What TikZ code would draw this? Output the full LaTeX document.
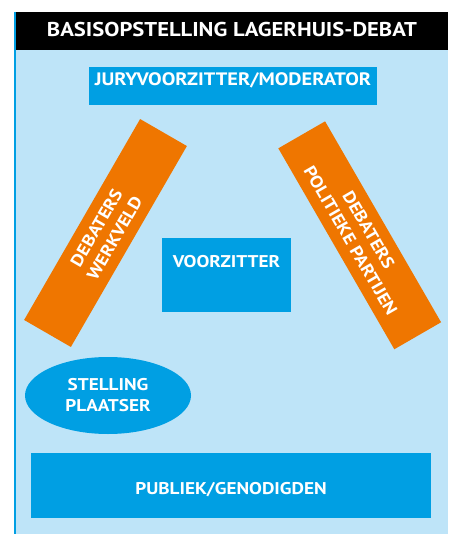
\documentclass[tikz,border=0pt]{standalone}
\usepackage{fontspec}
\setmainfont{PT Sans}[FakeStretch=1.13]
\usetikzlibrary{shapes.geometric}
\definecolor{lightbg}{RGB}{190,228,248}
\definecolor{boxblue}{RGB}{0,159,227}
\definecolor{barorange}{RGB}{239,118,0}
\tikzset{
  lbl/.style={text=white, font=\bfseries\fontsize{17}{21}\selectfont, align=center},
  bluebox/.style={lbl, fill=boxblue, inner sep=0pt},
  bar/.style={lbl, fill=barorange, minimum width=232pt, minimum height=54pt, inner sep=0pt},
}
\begin{document}
\begin{tikzpicture}[x=1pt,y=-1pt]
\useasboundingbox (0,0) rectangle (448,534);
\fill[lightbg] (16,50) rectangle (448,534);
\fill[boxblue] (14,12) rectangle (16,534);
\node[fill=black, text=white, font=\bfseries\fontsize{20}{24}\selectfont, minimum width=432pt, inner sep=0pt, text height=25pt, text depth=13pt] (header) at (232,31) {BASISOPSTELLING LAGERHUIS-DEBAT};
\node[bluebox, font=\bfseries\fontsize{18}{21}\selectfont, minimum width=288pt, text height=19pt, text depth=19pt] (jury) at (233,86) {JURYVOORZITTER/MODERATOR};
\node[bluebox, minimum width=129pt, text height=29.5pt, text depth=44.5pt] (voorz) at (226.5,275) {VOORZITTER};
\node[bluebox, minimum width=400pt, text height=41pt, text depth=24pt] (publiek) at (231,485.5) {PUBLIEK/GENODIGDEN};
\node[lbl, ellipse, fill=boxblue, minimum width=166pt, minimum height=77pt, inner sep=0pt] (stelling) at (108,395.5) {STELLING\\PLAATSER};
\node[bar, rotate=60] (werkveld) at (105.5,233) {DEBATERS\\WERKVELD};
\node[bar, rotate=-60] (partijen) at (359.7,235.3) {DEBATERS\\POLITIEKE PARTIJEN};
\end{tikzpicture}
\end{document}
